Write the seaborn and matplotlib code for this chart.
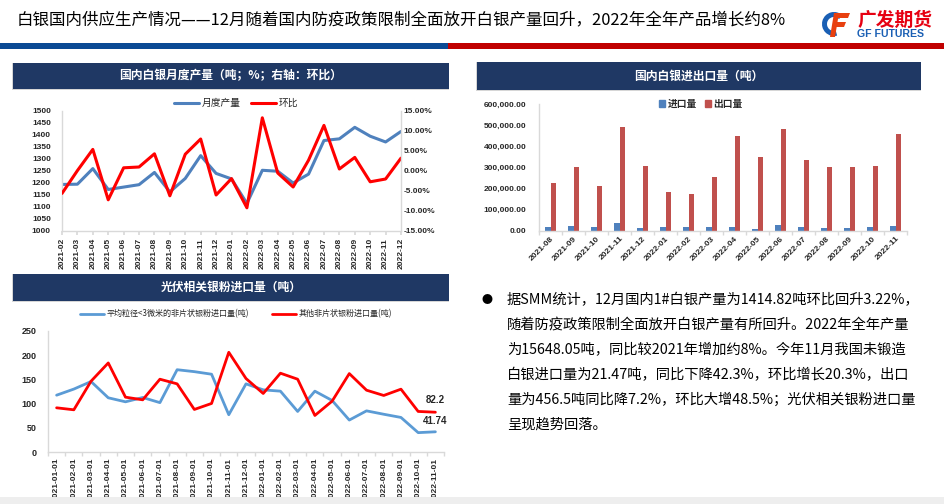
import numpy as np
import pandas as pd
import matplotlib
matplotlib.use("Agg")
import matplotlib.pyplot as plt
from matplotlib.patches import Rectangle, Wedge, Polygon
from matplotlib.lines import Line2D
from matplotlib.ticker import FuncFormatter
import seaborn as sns

W, H = 944, 504

# ---- data ----
prod_months = ['2021-02', '2021-03', '2021-04', '2021-05', '2021-06', '2021-07', '2021-08',
               '2021-09', '2021-10', '2021-11', '2021-12', '2022-01', '2022-02', '2022-03',
               '2022-04', '2022-05', '2022-06', '2022-07', '2022-08', '2022-09', '2022-10',
               '2022-11', '2022-12']
prod_tons = [1194, 1195, 1260, 1173, 1183, 1193, 1244, 1163, 1219, 1314, 1240, 1217,
             1115, 1253, 1249, 1200, 1237, 1377, 1384, 1432, 1395, 1371, 1414.82]
prod_mom = [-5.6, 0.1, 5.4, -7.2, 0.8, 1.0, 4.3, -6.2, 4.2, 8.0, -6.0, -1.9,
            -9.2, 13.3, -0.5, -4.0, 2.7, 11.4, 0.5, 3.4, -2.7, -2.0, 3.22]

trade_months = ['2021-08', '2021-09', '2021-10', '2021-11', '2021-12', '2022-01', '2022-02',
                '2022-03', '2022-04', '2022-05', '2022-06', '2022-07', '2022-08', '2022-09',
                '2022-10', '2022-11']
import_vol = [18800, 25100, 17300, 37700, 12600, 20400, 18800, 18800, 18800, 11000,
              29800, 18800, 15700, 15700, 17300, 21470]
export_vol = [224600, 303000, 213600, 490000, 307800, 183800, 174300, 256000, 449200,
              348700, 482200, 337700, 300000, 303000, 306300, 456500]

powder_months = ['2021-01-01', '2021-02-01', '2021-03-01', '2021-04-01', '2021-05-01',
                 '2021-06-01', '2021-07-01', '2021-08-01', '2021-09-01', '2021-10-01',
                 '2021-11-01', '2021-12-01', '2022-01-01', '2022-02-01', '2022-03-01',
                 '2022-04-01', '2022-05-01', '2022-06-01', '2022-07-01', '2022-08-01',
                 '2022-09-01', '2022-10-01', '2022-11-01']
powder_fine = [117.4, 130, 145.6, 112, 103.7, 112.6, 102, 170, 166, 160.7, 77, 140.8,
               128.4, 125.7, 83.8, 125.7, 106.5, 66, 85, 78, 71.4, 40, 41.74]
powder_other = [91.3, 87.2, 146.3, 184, 113.3, 107.8, 150.4, 140.8, 87.9, 100.3, 206, 151.8,
                120.9, 162.8, 150.4, 75.5, 105, 162, 127.7, 116.8, 129.8, 83.8, 82.2]

title = '白银国内供应生产情况——12月随着国内防疫政策限制全面放开白银产量回升，2022年全年产品增长约8%'
body_lines = [
    '据SMM统计，12月国内1#白银产量为1414.82吨环比回升3.22%，',
    '随着防疫政策限制全面放开白银产量有所回升。2022年全年产量',
    '为15648.05吨，同比较2021年增加约8%。今年11月我国未锻造',
    '白银进口量为21.47吨，同比下降42.3%，环比增长20.3%，出口',
    '量为456.5吨同比降7.2%，环比大增48.5%；光伏相关银粉进口量',
    '呈现趋势回落。',
]

NAVY = '#1F3864'
AXIS_GREY = '#D9D9D9'
CJK = ['Noto Sans CJK SC', 'DejaVu Sans']

sns.set_theme(style='white')
plt.rcParams['font.family'] = ['Liberation Sans', 'Noto Sans CJK SC', 'DejaVu Sans']
plt.rcParams['axes.unicode_minus'] = False

fig = plt.figure(figsize=(W / 100, H / 100), dpi=100)


def px_axes(x, y, w, h, **kw):
    return fig.add_axes([x / W, 1 - (y + h) / H, w / W, h / H], **kw)


# ---- slide decorations (pixel coordinates) ----
deco = px_axes(0, 0, W, H)
deco.set_xlim(0, W)
deco.set_ylim(H, 0)
deco.axis('off')
deco.set_zorder(-1)

deco.text(17, 20, title, fontsize=11.9, color='black', va='center', family=CJK)
deco.add_patch(Rectangle((0, 43), 448, 6, color='#0B4A94', lw=0))
deco.add_patch(Rectangle((448, 43), W - 448, 6, color='#C00000', lw=0))

# logo
deco.add_patch(Wedge((834, 24), 12, 75, 315, width=5, color='#1A5FB4', lw=0))
deco.add_patch(Polygon([(836, 13), (850, 13), (848, 18), (834, 18)], color='#E8400F', lw=0))
deco.add_patch(Polygon([(834, 22), (846, 22), (844, 27), (833, 27)], color='#E8400F', lw=0))
deco.add_patch(Polygon([(834, 13), (839, 13), (835, 37), (830, 37)], color='#E8400F', lw=0))
deco.text(857, 20, '广发期货', fontsize=13.5, weight='bold', color='#E60012', va='center', family=CJK)
deco.text(857, 34, 'GF FUTURES', fontsize=7.6, weight='bold', color='#1A5FB4', va='center')

headers = [((13, 63, 436, 26), '国内白银月度产量（吨；%；右轴：环比）'),
           ((477, 62, 444, 28), '国内白银进出口量（吨）'),
           ((13, 274, 436, 27), '光伏相关银粉进口量（吨）')]
for (x, y, w, h), txt in headers:
    deco.add_patch(Rectangle((x - 1, y), w + 1, h + 1, color='#D6D6D6', lw=0))
    deco.add_patch(Rectangle((x, y), w, h, color=NAVY, lw=0))
    deco.text(x + w / 2, y + h / 2, txt, fontsize=8.5, weight='bold', color='white',
              ha='center', va='center', family=CJK)

deco.text(487, 300, '●', fontsize=8, color='black', ha='center', va='center', family=CJK)
for i, line in enumerate(body_lines):
    deco.text(507, 300 + 25 * i, line, fontsize=10.3, color='black', va='center', family=CJK)


def style_axis(ax, spines=('left', 'bottom')):
    for side, sp in ax.spines.items():
        sp.set_visible(side in spines)
        sp.set_color(AXIS_GREY)
        sp.set_linewidth(1)
    ax.set_facecolor('none')
    ax.grid(False)
    ax.set_xlabel('')
    ax.set_ylabel('')


# ---- chart 1: monthly production + MoM ----
ax1 = px_axes(62, 111, 339, 120)
x1 = np.arange(len(prod_months))
sns.lineplot(x=x1, y=prod_tons, ax=ax1, color='#4F81BD', linewidth=2.2)
ax1.set_xlim(0, len(prod_months) - 1)
ax1.set_ylim(1000, 1500)
ax1.set_yticks(np.arange(1000, 1501, 50))
ax1.set_xticks(x1)
ax1.set_xticklabels(prod_months, rotation=90, fontsize=6, weight='bold')
ax1.tick_params(axis='y', labelsize=6, pad=8, length=0)
ax1.tick_params(axis='x', bottom=True, length=3, color=AXIS_GREY, pad=2)
for lab in ax1.get_yticklabels():
    lab.set_fontweight('bold')
style_axis(ax1)

ax1b = ax1.twinx()
sns.lineplot(x=x1, y=prod_mom, ax=ax1b, color='#FF0000', linewidth=2.2)
ax1b.set_ylim(-15, 15)
ax1b.set_yticks(np.arange(-15, 16, 5))
ax1b.yaxis.set_major_formatter(FuncFormatter(lambda v, _: f'{v:.2f}%'))
ax1b.tick_params(axis='y', labelsize=6, pad=2, length=0, right=True)
for lab in ax1b.get_yticklabels():
    lab.set_fontweight('bold')
style_axis(ax1b, spines=('right',))

fig.legend([Line2D([], [], color='#4F81BD', lw=2.2), Line2D([], [], color='#FF0000', lw=2.2)],
           ['月度产量', '环比'], loc='center', bbox_to_anchor=(236 / W, 1 - 103 / H),
           ncol=2, frameon=False, fontsize=7, handlelength=2.6, handletextpad=0.3,
           columnspacing=1.0, prop={'family': CJK, 'size': 7})

# ---- chart 2: imports / exports ----
ax2 = px_axes(539, 104, 368, 127)
trade = pd.DataFrame({
    'month': trade_months * 2,
    'kind': ['进口量'] * len(trade_months) + ['出口量'] * len(trade_months),
    'value': import_vol + export_vol,
})
sns.barplot(data=trade, x='month', y='value', hue='kind', palette=['#4F81BD', '#C0504D'],
            saturation=1, width=0.46, linewidth=0, ax=ax2, legend=False)
ax2.set_xlim(-0.5, len(trade_months) - 0.5)
ax2.set_ylim(0, 600000)
ax2.set_yticks(np.arange(0, 600001, 100000))
ax2.yaxis.set_major_formatter(FuncFormatter(lambda v, _: f'{v:,.2f}'))
ax2.set_xticks(np.arange(len(trade_months)))
ax2.set_xticklabels(trade_months, rotation=45, ha='right', rotation_mode='anchor',
                    fontsize=6, weight='bold')
ax2.set_xticks(np.arange(len(trade_months) + 1) - 0.5, minor=True)
ax2.tick_params(axis='x', which='major', length=0, pad=3)
ax2.tick_params(axis='x', which='minor', bottom=True, length=3, color=AXIS_GREY)
ax2.tick_params(axis='y', labelsize=6, pad=9, length=0)
for lab in ax2.get_yticklabels():
    lab.set_fontweight('bold')
style_axis(ax2)
fig.legend([Rectangle((0, 0), 1, 1, color='#4F81BD'), Rectangle((0, 0), 1, 1, color='#C0504D')],
           ['进口量', '出口量'], loc='center', bbox_to_anchor=(701 / W, 1 - 104 / H),
           ncol=2, frameon=False, handlelength=0.6, handleheight=0.6, handletextpad=0.3,
           columnspacing=0.8, prop={'family': CJK, 'size': 7, 'weight': 'bold'})

# ---- chart 3: PV silver powder imports ----
ax3 = px_axes(48, 331, 396, 121)
x3 = np.arange(len(powder_months))
sns.lineplot(x=x3, y=powder_fine, ax=ax3, color='#5B9BD5', linewidth=2)
sns.lineplot(x=x3, y=powder_other, ax=ax3, color='#FF0000', linewidth=2)
ax3.set_xlim(-0.5, len(powder_months) - 0.5)
ax3.set_ylim(0, 250)
ax3.set_yticks(np.arange(0, 251, 50))
ax3.set_xticks(x3)
ax3.set_xticklabels(powder_months, rotation=90, fontsize=6, weight='bold')
ax3.set_xticks(np.arange(len(powder_months) + 1) - 0.5, minor=True)
ax3.tick_params(axis='x', which='major', length=0, pad=4)
ax3.tick_params(axis='x', which='minor', bottom=True, length=3, color=AXIS_GREY)
ax3.tick_params(axis='y', labelsize=6.5, pad=8, length=0)
for lab in ax3.get_yticklabels():
    lab.set_fontweight('bold')
style_axis(ax3)
ax3.annotate(f'{powder_other[-1]:g}', (x3[-1], powder_other[-1]), xytext=(0, 9),
             textcoords='offset points', ha='center', va='center', fontsize=7, weight='bold')
ax3.annotate(f'{powder_fine[-1]:g}', (x3[-1], powder_fine[-1]), xytext=(0, 8),
             textcoords='offset points', ha='center', va='center', fontsize=7, weight='bold')
fig.legend([Line2D([], [], color='#5B9BD5', lw=2), Line2D([], [], color='#FF0000', lw=2)],
           ['平均粒径<3微米的非片状银粉进口量(吨)', '其他非片状银粉进口量(吨)'],
           loc='center', bbox_to_anchor=(236 / W, 1 - 314 / H), ncol=2, frameon=False,
           handlelength=3.0, handletextpad=0.3, columnspacing=2.8,
           prop={'family': CJK, 'size': 5.8})

# footer strip of the slide, drawn over the clipped tick labels
fig.patches.append(Rectangle((0, 0), 1, 7 / H, transform=fig.transFigure,
                             color='#EEEEEE', lw=0, zorder=10))

fig.savefig('out.png', dpi=100)
plt.close(fig)
